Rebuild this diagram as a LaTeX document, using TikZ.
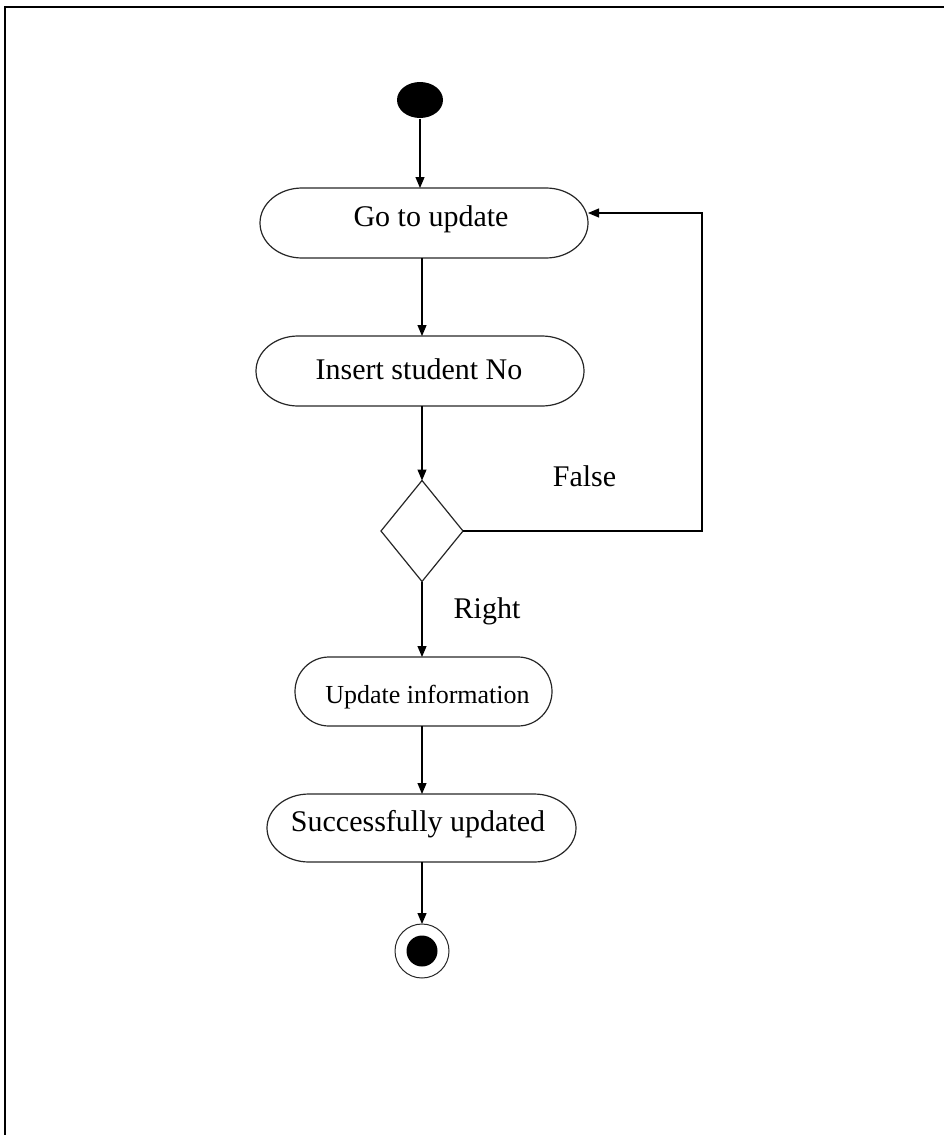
\documentclass[tikz,border=0pt]{standalone}
\usepackage{fontspec}
\setmainfont{Liberation Serif}
\usetikzlibrary{arrows.meta,shapes.geometric}

% outline of an action node: flat top and bottom, elliptical ends
% #1 node name, #2 x radius of the ends, #3 half height
\newcommand\termoutline[3]{%
  \draw[termline] ([xshift=#2]#1.north west) -- ([xshift=-#2]#1.north east)
    arc[start angle=90,end angle=-90,x radius=#2,y radius=#3]
    -- ([xshift=#2]#1.south west)
    arc[start angle=270,end angle=90,x radius=#2,y radius=#3] -- cycle;}

\begin{document}
\begin{tikzpicture}[x=1pt,y=-1pt,line width=1.2pt,
  flow/.style={-{Triangle[length=11pt,width=9pt]}},
  term/.style={rectangle,draw=none,inner sep=0pt,outer sep=0pt},
  termline/.style={line width=1.2pt,draw=black!85},
  lbl/.style={font=\fontsize{30}{36}\selectfont,inner sep=0pt,anchor=base},
  smalllbl/.style={font=\fontsize{26}{31}\selectfont,inner sep=0pt,anchor=base},
  startdot/.style={ellipse,fill=black,draw=none,minimum width=46pt,minimum height=36pt,inner sep=0pt},
  decision/.style={diamond,draw=black!85,line width=1.2pt,minimum width=82pt,minimum height=101pt,inner sep=0pt,outer sep=0pt},
  endring/.style={circle,draw=black!85,line width=1pt,minimum size=54pt,inner sep=0pt,outer sep=0pt},
  enddot/.style={circle,fill=black,draw=none,minimum size=31pt,inner sep=0pt}]

\useasboundingbox (0,0) rectangle (944,1135);
% page frame: left and top edges only
\draw[line width=1.5pt] (5,1135) -- (5,7) -- (944,7);

% nodes
\node[startdot] (start) at (420,100) {};
\node[term,minimum width=328pt,minimum height=70pt] (go) at (424,223) {};
\node[term,minimum width=328pt,minimum height=70pt] (ins) at (420,371) {};
\node[decision] (dec) at (422,531) {};
\node[term,minimum width=257pt,minimum height=69pt] (upd) at (423.5,691.5) {};
\node[term,minimum width=309pt,minimum height=68pt] (succ) at (421.5,828) {};
\node[endring] (stop) at (422,951) {};
\node[enddot] (stopdot) at (stop) {};

\termoutline{go}{42pt}{35pt}
\termoutline{ins}{42pt}{35pt}
\termoutline{upd}{34pt}{34.5pt}
\termoutline{succ}{42pt}{34pt}

% texts
\node[lbl] (goT) at (431,226) {Go to update};
\node[lbl] (insT) at (419,379) {Insert student No};
\node[smalllbl] (updT) at (427.5,703) {Update information};
\node[lbl] (succT) at (418,831) {Successfully updated};
\node[lbl] (falseT) at (584.5,486) {False};
\node[lbl] (rightT) at (487,618) {Right};

% connectors
\coordinate (fbturn) at (702,531);
\coordinate (goin) at (588,213);
\draw[flow] (start) -- (start |- go.north);
\draw[flow] (go.south -| dec) -- (ins.north -| dec);
\draw[flow] (ins.south -| dec) -- (dec.north);
\draw[flow] (dec.east) -- (dec.east -| fbturn) |- (goin);
\draw[flow] (dec.south) -- (upd.north -| dec);
\draw[flow] (upd.south -| dec) -- (succ.north -| dec);
\draw[flow] (succ.south -| dec) -- (stop.north);
\end{tikzpicture}
\end{document}
